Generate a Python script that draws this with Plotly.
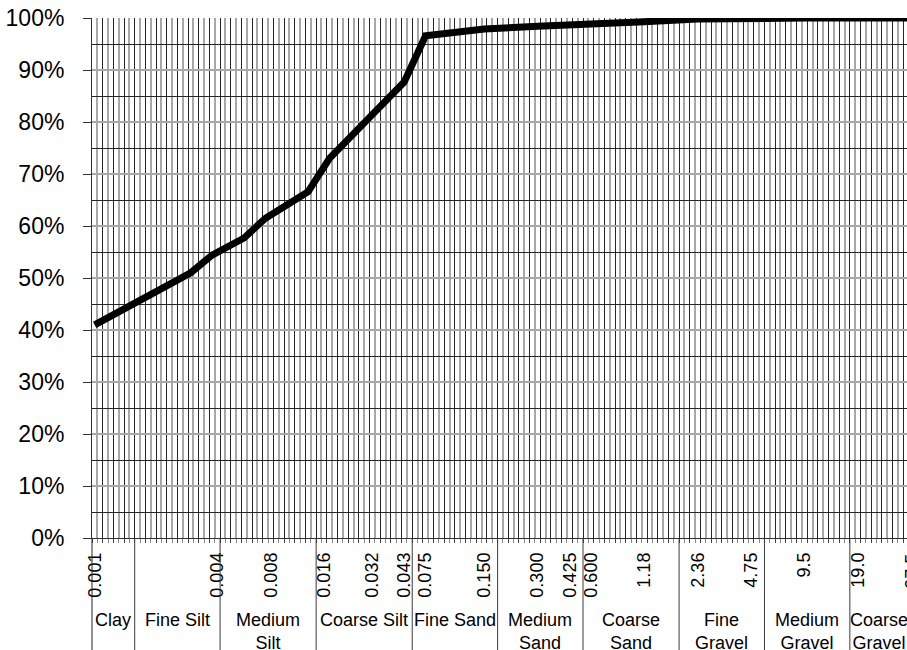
import plotly.graph_objects as go

# Particle sizes (mm) labelled under the axis and the slot each one occupies on the size scale
size_labels = ["0.001", "0.004", "0.008", "0.016", "0.032", "0.043", "0.075", "0.150",
               "0.300", "0.425", "0.600", "1.18", "2.36", "4.75", "9.5", "19.0", "37.5"]
size_slots = [0, 23, 33, 43, 52, 58, 62, 73, 83, 89, 93, 103, 113, 123, 133, 143, 153]

# Grading curve: slot on the size scale and cumulative percent passing
curve_slots = [0, 18, 22, 28, 32, 40, 44, 51, 58, 62, 73, 83, 89, 93, 103, 113, 123, 133, 143, 153]
percent_passing = [41.0, 51.0, 54.4, 57.7, 61.5, 66.6, 73.0, 80.3, 87.7, 96.6,
                   97.9, 98.4, 98.6, 98.8, 99.3, 99.8, 100.0, 100.0, 100.0, 100.0]

# Soil classes written in the band under the axis, with the slot where each class begins
soil_classes = ["Clay", "Fine Silt", "Medium<br>Silt", "Coarse Silt", "Fine Sand",
                "Medium<br>Sand", "Coarse<br>Sand", "Fine<br>Gravel", "Medium<br>Gravel",
                "Coarse<br>Gravel"]
class_edges = [0, 8, 24, 42, 60, 76, 92, 110, 126, 142, 153]

# ---- geometry / styling -------------------------------------------------
W, H = 907, 650
M_L, M_R, M_T, M_B = 92, 0, 18, 112
SLOT_PX = 5.337                      # width of one slot on the size scale
plot_w = W - M_L - M_R
plot_h = H - M_T - M_B
x_lo = -0.5
x_hi = x_lo + plot_w / SLOT_PX

FONT = "Liberation Sans, Arial, sans-serif"
DARK = "#262626"
LIGHT = "#a8a8a8"


def px_below_axis(px):
    """paper-y for a point px pixels below the bottom of the plot area"""
    return -px / plot_h


fig = go.Figure()

fig.add_trace(go.Scatter(
    x=curve_slots, y=percent_passing, mode="lines",
    line=dict(color="black", width=7),
    hoverinfo="skip", showlegend=False,
))
# carrier for the overlaid label axis
fig.add_trace(go.Scatter(x=[], y=[], xaxis="x2", showlegend=False, hoverinfo="skip"))

# size labels that fall past the right edge of the plot area
annotations = []
for lab, s in zip(size_labels, size_slots):
    if s > x_hi:
        annotations.append(dict(
            xref="paper", yref="paper",
            x=(s - x_lo) / (x_hi - x_lo), y=px_below_axis(14),
            text=lab, textangle=-90, showarrow=False,
            xanchor="center", yanchor="top",
            font=dict(family=FONT, size=18, color="black"),
        ))

# soil class names centred in their bands
for i, name in enumerate(soil_classes):
    centre = (class_edges[i] + class_edges[i + 1]) / 2 - 0.5
    annotations.append(dict(
        xref="x", yref="paper", x=centre, y=px_below_axis(70),
        text=name, showarrow=False, xanchor="center", yanchor="top",
        align="center", font=dict(family=FONT, size=18, color="black"),
    ))

# vertical separators of the class band
shapes = [dict(type="line", xref="paper", yref="paper", x0=0, x1=0,
               y0=0, y1=px_below_axis(140), line=dict(color=DARK, width=1))]
for e in class_edges[1:-1]:
    shapes.append(dict(type="line", xref="x", yref="paper", x0=e - 0.5, x1=e - 0.5,
                       y0=0, y1=px_below_axis(140), line=dict(color="#3a3a3a", width=1)))

fig.update_layout(
    width=W, height=H, autosize=False,
    margin=dict(l=M_L, r=M_R, t=M_T, b=M_B, pad=0),
    paper_bgcolor="white", plot_bgcolor="white",
    font=dict(family=FONT, color="black"),
    showlegend=False,
    xaxis=dict(
        range=[x_lo, x_hi], tickmode="linear", tick0=-0.5, dtick=2,
        showticklabels=False, ticks="outside", ticklen=4, tickcolor="#444",
        showgrid=True, gridcolor=DARK, gridwidth=1,
        showline=True, linecolor="#333", linewidth=1, zeroline=False,
        minor=dict(tickmode="linear", tick0=-0.5, dtick=1, showgrid=True,
                   gridcolor=LIGHT, gridwidth=2, ticks="outside", ticklen=4,
                   tickcolor="#888"),
        fixedrange=True,
    ),
    xaxis2=dict(
        overlaying="x", anchor="y", side="bottom", range=[x_lo, x_hi],
        tickmode="array", tickvals=size_slots, ticktext=size_labels,
        tickangle=-90, ticks="", showgrid=False, zeroline=False, showline=False,
        tickfont=dict(family=FONT, size=18, color="black"),
        ticklabelstandoff=10, fixedrange=True,
    ),
    yaxis=dict(
        range=[0, 100], tickmode="linear", tick0=0, dtick=10, ticksuffix="%",
        ticks="outside", ticklen=8, tickcolor="#333",
        showgrid=True, gridcolor=LIGHT, gridwidth=2,
        showline=True, linecolor="#333", linewidth=1, zeroline=False,
        tickfont=dict(family=FONT, size=23, color="black"),
        ticklabelstandoff=14,
        minor=dict(tick0=0, dtick=5, showgrid=True, gridcolor=DARK, gridwidth=1, ticks=""),
        fixedrange=True,
    ),
    annotations=annotations,
    shapes=shapes,
)

fig.write_html("out.html")
